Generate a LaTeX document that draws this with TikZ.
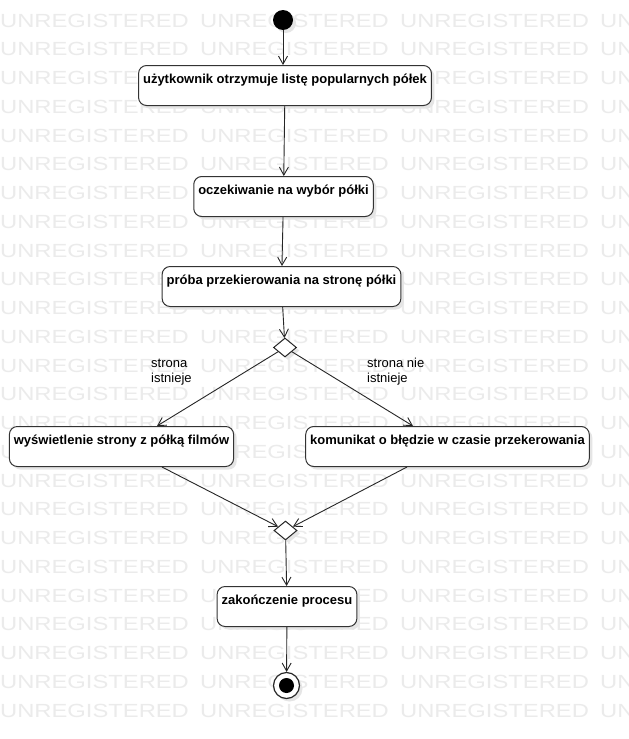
\documentclass[tikz,border=0pt]{standalone}
\usepackage{fontspec}
\setmainfont{Liberation Sans}
\usetikzlibrary{shapes.geometric,arrows.meta,shadows,calc}
\begin{document}
\begin{tikzpicture}[x=1pt,y=-1pt,
  wm/.style={anchor=base west, inner sep=0pt, text=black!8, font=\fontsize{19}{19}\selectfont},
  shad/.style={drop shadow={shadow xshift=3pt, shadow yshift=-3pt, fill=black!10, opacity=1}},
  act/.style={shad, draw=black!80, line width=1pt, fill=white, rounded corners=8pt,
    font=\bfseries\fontsize{13}{15}\selectfont, inner xsep=4.5pt, inner ysep=0pt,
    text height=18pt, text depth=22pt, anchor=north},
  dec/.style={shad, diamond, draw=black!85, line width=1pt, fill=white,
    minimum width=23pt, minimum height=19pt, inner sep=0pt},
  startnode/.style={shad, circle, fill=black, minimum size=20pt, inner sep=0pt},
  endnode/.style={shad, circle, draw=black!85, line width=1.2pt, fill=white, minimum size=26pt, inner sep=0pt,
    path picture={\fill[black] (path picture bounding box.center) circle (7.5pt);}},
  lbl/.style={inner sep=0pt, align=left, font=\fontsize{13}{15}\selectfont, anchor=base west},
  flow/.style={draw=black!85, line width=0.9pt, -{Straight Barb[length=8pt,width=9pt,line width=0.9pt]}}
]
\useasboundingbox (0,0) rectangle (629,739);
\fill[white] (0,0) rectangle (629,739);
\begin{scope}
\clip (0,0) rectangle (629,739);
\foreach \k in {0,...,24}{
  \foreach \i in {0,...,3}{
    \node[wm] at (200*\i, 27+28.75*\k) {\scalebox{1.25}[1]{UNREGISTERED}};
  }
}
\end{scope}

\node[startnode] (st) at (283,20) {};
\node[act] (b1) at (285,65) {użytkownik otrzymuje listę popularnych półek};
\node[act] (b2) at (283.5,176) {oczekiwanie na wybór półki};
\node[act] (b3) at (281.5,266) {próba przekierowania na stronę półki};
\node[dec] (d1) at (285,347.5) {};
\node[act] (b4) at (121.5,426) {wyświetlenie strony z półką filmów};
\node[act] (b5) at (447.5,426) {komunikat o błędzie w czasie przekerowania};
\node[dec] (d2) at (285.5,530.5) {};
\node[act] (b6) at (287,586) {zakończenie procesu};
\node[endnode] (en) at (286.5,685.5) {};

\node[lbl] (l1) at (151,382) {strona\\istnieje};
\node[lbl] (l2) at (367,382) {strona nie\\istnieje};

\draw[flow] (st) -- (st |- b1.north);
\draw[flow] (b1) -- (b2);
\draw[flow] (b2) -- (b3);
\draw[flow] (b3) -- (d1);
\draw[flow] (d1) -- ([xshift=35.5pt]b4.north);
\draw[flow] (d1) -- ([xshift=-34.5pt]b5.north);
\draw[flow] ([xshift=40.5pt]b4.south) -- (d2);
\draw[flow] ([xshift=-40.5pt]b5.south) -- (d2);
\draw[flow] (d2) -- (b6);
\draw[flow] (b6) -- (en);
\end{tikzpicture}
\end{document}
